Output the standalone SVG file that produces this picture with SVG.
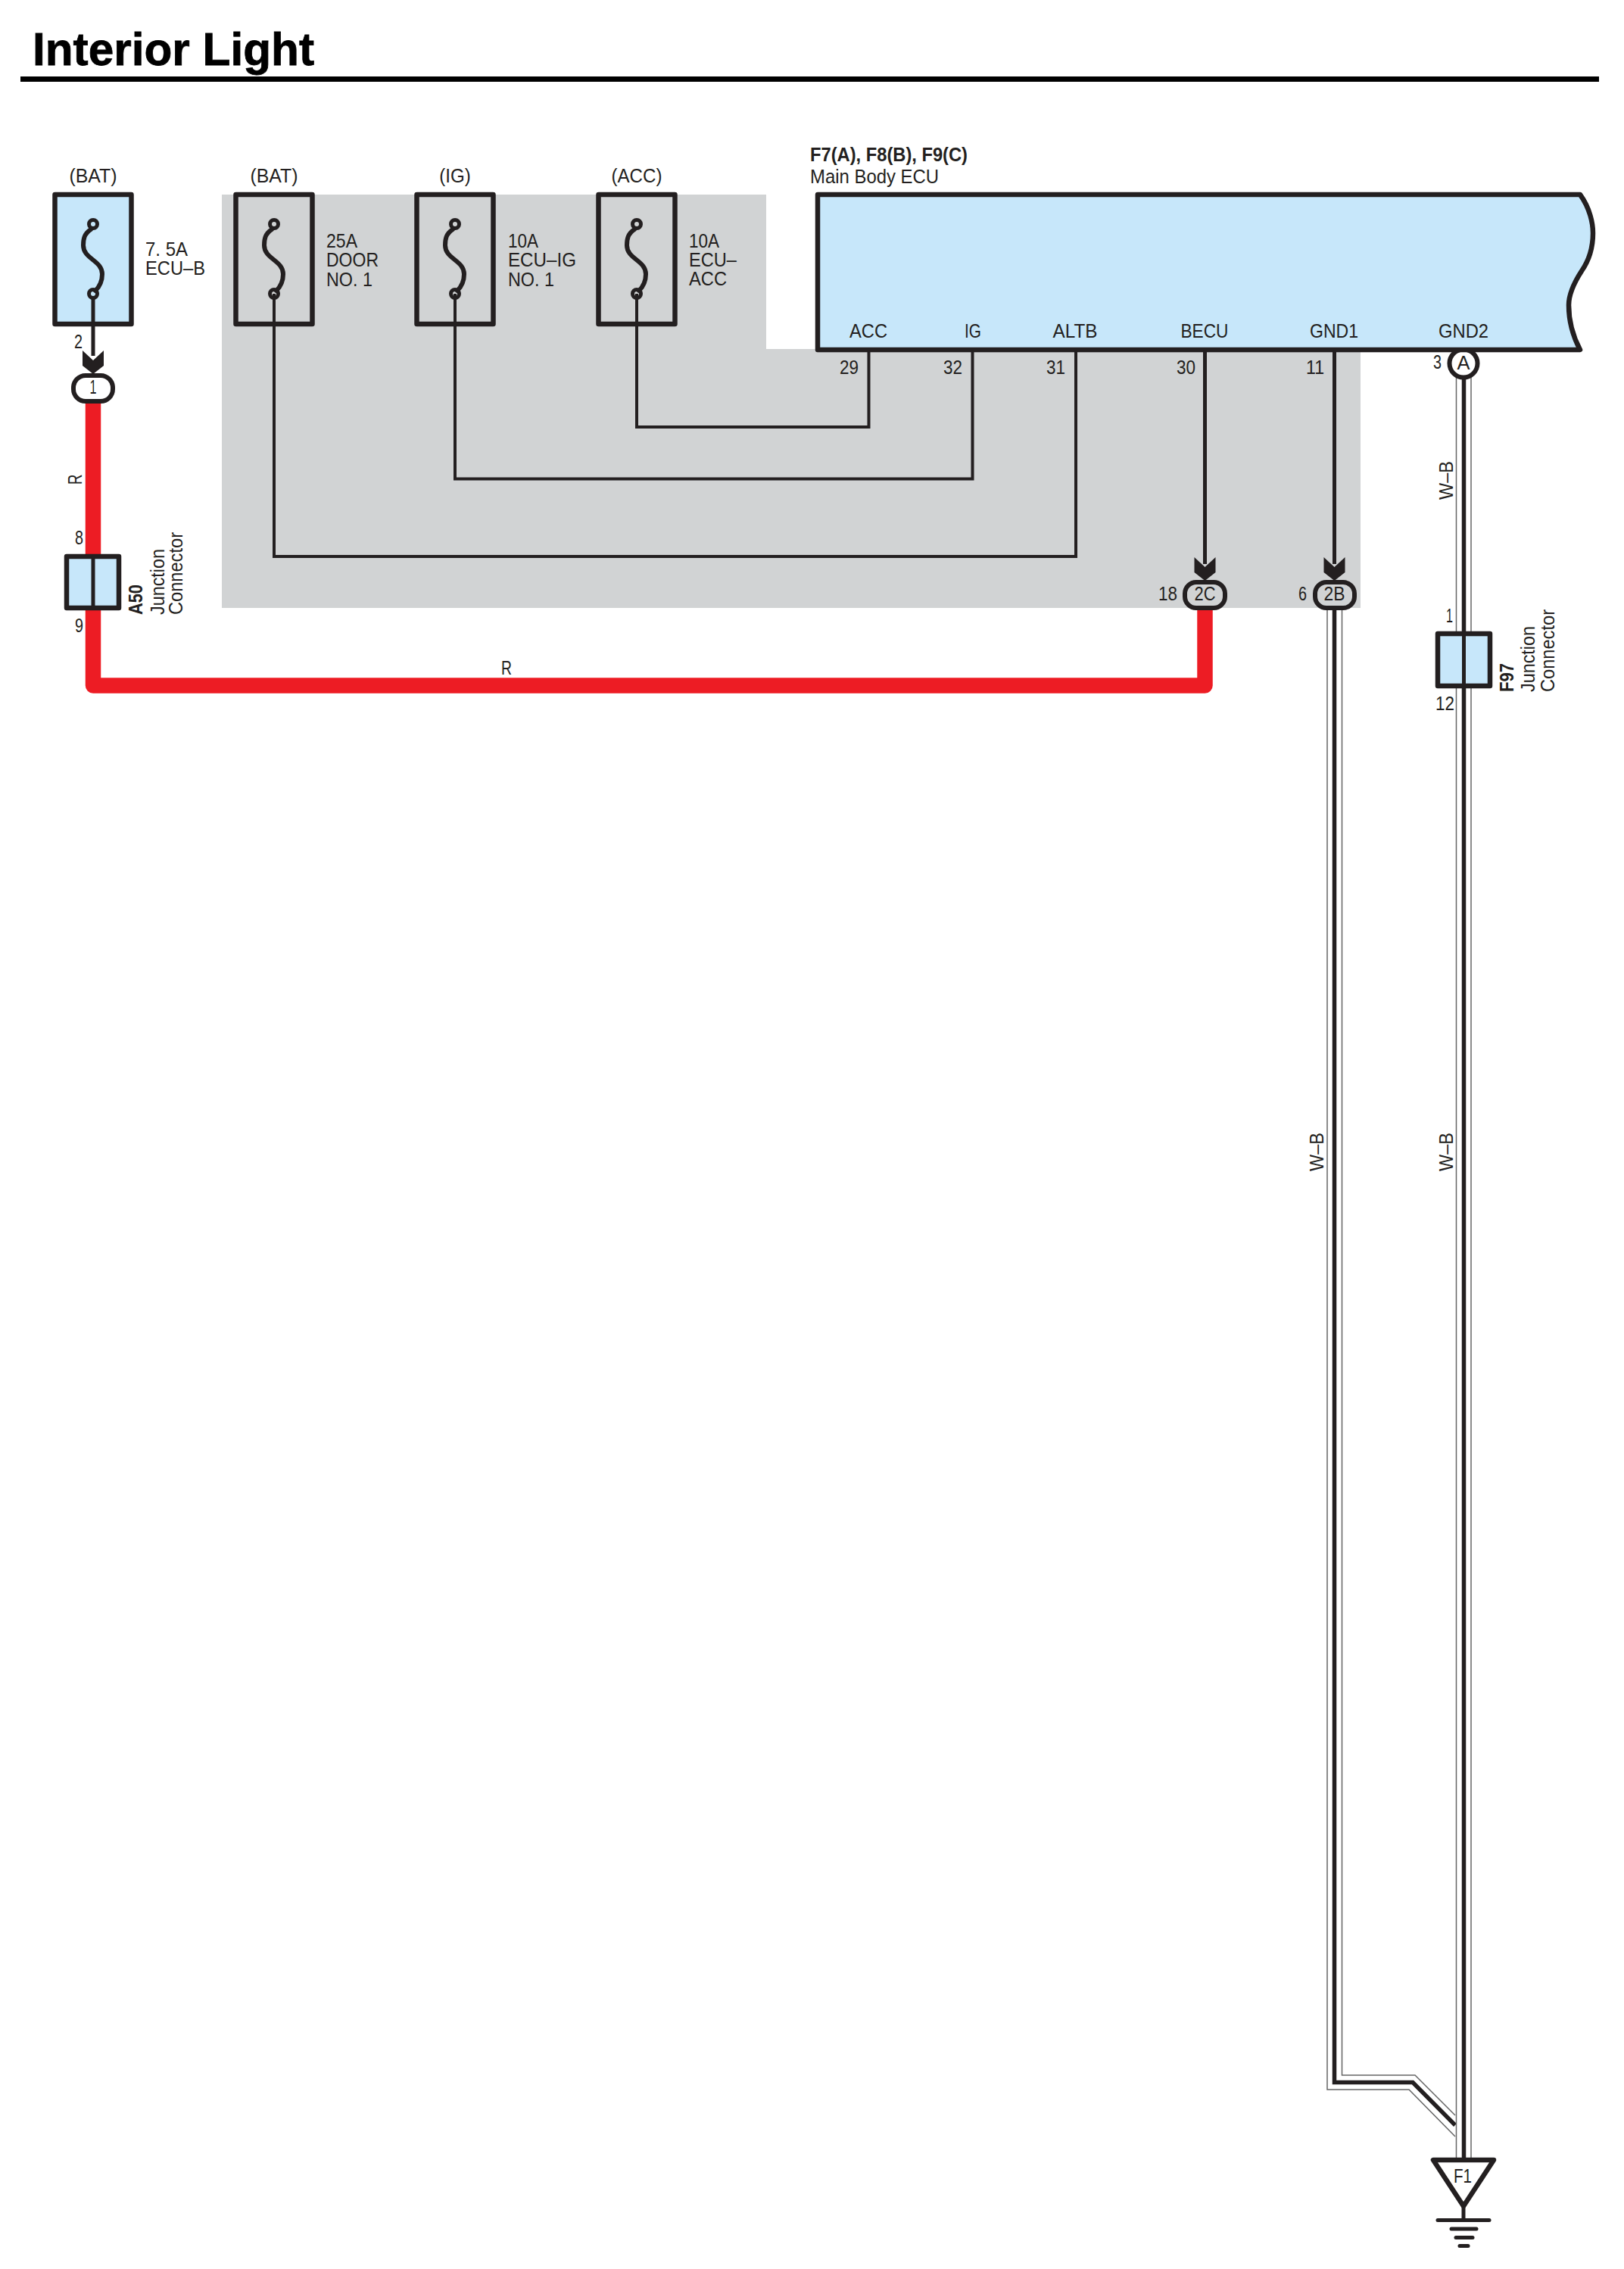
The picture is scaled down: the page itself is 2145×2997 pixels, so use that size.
<svg xmlns="http://www.w3.org/2000/svg" xmlns:xlink="http://www.w3.org/1999/xlink" width="2145" height="2997" viewBox="0 0 2145 2997">
<style>
text{font-family:"Liberation Sans",Arial,sans-serif;font-size:26.5px;fill:#231f20}
.b{font-weight:bold}
.m{text-anchor:middle}
.e{text-anchor:end}
.box{stroke:#231f20;stroke-width:6.5;stroke-linejoin:round}
.blue{fill:#c7e7fa}
.none{fill:none}
.wire{fill:none;stroke:#231f20;stroke-width:4}
.pin{fill:none;stroke:#231f20;stroke-width:5}
.red{fill:none;stroke:#ed1c24;stroke-width:20.5;stroke-linejoin:round}
.sh{fill:none;stroke:#666;stroke-width:1.5}
.core{fill:none;stroke:#231f20;stroke-width:5.5;stroke-linejoin:miter}
.gnd{stroke:#231f20;stroke-width:5;stroke-linecap:round}
</style>
<defs>
<g id="fuseS"><circle cx="0" cy="42" r="5.5" fill="none" stroke="#231f20" stroke-width="5"/><circle cx="0" cy="134" r="5.5" fill="none" stroke="#231f20" stroke-width="5"/><path d="M-3,49 C-12,55 -13,62 -13,70 C-13,88 12,90 12,108 C12,118 7,126 3,130" fill="none" stroke="#231f20" stroke-width="6" stroke-linecap="round"/></g>
<path id="arrow" d="M-14,0 L0,13 L14,0 V20 L0,31 L-14,20 Z" fill="#231f20"/>
</defs>
<rect width="2145" height="2997" fill="#fff"/>
<g id="title"><text class="b" x="43" y="86" style="font-size:61px;fill:#000;stroke:#000;stroke-width:.8" textLength="372" lengthAdjust="spacingAndGlyphs">Interior Light</text><rect x="27" y="101" width="2085" height="7" fill="#000"/></g>
<path id="shade" d="M293,257 H1012 V461 H1797 V803 H293 Z" fill="#d1d3d4"/>
<g id="connectors">
<path class="red" d="M123,530 V905.5 H1591.5 V803"/>
<path class="sh" d="M1753,806 V2760 H1861 L1922,2822"/><path class="sh" d="M1772.5,806 V2741 H1869 L1922,2794"/><path class="core" d="M1762.5,806 V2750.5 H1866 L1922,2807"/>
<path class="sh" d="M1923.5,498 V2852"/><path class="sh" d="M1943,498 V2852"/><path class="core" d="M1933.5,498 V2852"/>
<path class="wire" d="M841,388 V564 H1147.5 V462"/>
<path class="wire" d="M601,388 V632.5 H1284.5 V462"/>
<path class="wire" d="M362,388 V735 H1421 V462"/>
<path class="pin" d="M123,388 V470"/>
<path class="pin" d="M1591.5,462 V745"/>
<path class="pin" d="M1762.5,462 V745"/>
</g>
<g id="fuse-ecu-b"><rect class="box blue" x="72.5" y="257" width="101" height="171"/><use xlink:href="#fuseS" href="#fuseS" x="123" y="254"/><path class="pin" d="M123,394 V431"/><text class="m" x="123" y="241" textLength="63" lengthAdjust="spacingAndGlyphs">(BAT)</text><text x="192" y="338" textLength="56" lengthAdjust="spacingAndGlyphs">7. 5A</text><text x="192" y="363" textLength="79" lengthAdjust="spacingAndGlyphs">ECU–B</text><text class="e" x="109" y="460" textLength="11" lengthAdjust="spacingAndGlyphs">2</text></g>
<g id="fuse-door"><rect class="box none" x="311.5" y="257" width="101" height="171"/><use xlink:href="#fuseS" href="#fuseS" x="362" y="254"/><text class="m" x="362" y="241" textLength="63" lengthAdjust="spacingAndGlyphs">(BAT)</text><text x="431" y="327" textLength="41" lengthAdjust="spacingAndGlyphs">25A</text><text x="431" y="352" textLength="69" lengthAdjust="spacingAndGlyphs">DOOR</text><text x="431" y="378" textLength="61" lengthAdjust="spacingAndGlyphs">NO. 1</text></g>
<g id="fuse-ig"><rect class="box none" x="550.5" y="257" width="101" height="171"/><use xlink:href="#fuseS" href="#fuseS" x="601" y="254"/><text class="m" x="601" y="241" textLength="41.5" lengthAdjust="spacingAndGlyphs">(IG)</text><text x="671" y="327" textLength="40" lengthAdjust="spacingAndGlyphs">10A</text><text x="671" y="352" textLength="90" lengthAdjust="spacingAndGlyphs">ECU–IG</text><text x="671" y="378" textLength="61" lengthAdjust="spacingAndGlyphs">NO. 1</text></g>
<g id="fuse-acc"><rect class="box none" x="790.5" y="257" width="101" height="171"/><use xlink:href="#fuseS" href="#fuseS" x="841" y="254"/><text class="m" x="841" y="241" textLength="67" lengthAdjust="spacingAndGlyphs">(ACC)</text><text x="910" y="327" textLength="40" lengthAdjust="spacingAndGlyphs">10A</text><text x="910" y="352" textLength="63" lengthAdjust="spacingAndGlyphs">ECU–</text><text x="910" y="377" textLength="50" lengthAdjust="spacingAndGlyphs">ACC</text></g>
<g id="conn-a"><ellipse cx="1933" cy="480" rx="18.5" ry="18.5" fill="#fff" stroke="#231f20" stroke-width="6"/><text class="m" x="1933" y="488" textLength="17" lengthAdjust="spacingAndGlyphs">A</text><text class="e" x="1904" y="487" textLength="11" lengthAdjust="spacingAndGlyphs">3</text></g>
<g id="ecu"><path class="box blue" d="M1080,257 H2087 C2100,275 2104,295 2104,308 C2104,330 2098,345 2089,358 C2078,375 2072,390 2072,403 C2072,425 2078,445 2087,462 H1080 Z"/>
<text class="b" x="1070" y="213" textLength="208" lengthAdjust="spacingAndGlyphs">F7(A), F8(B), F9(C)</text><text x="1070" y="242" textLength="170" lengthAdjust="spacingAndGlyphs">Main Body ECU</text>
<text class="m" x="1147" y="446" textLength="50" lengthAdjust="spacingAndGlyphs">ACC</text><text class="m" x="1285" y="446" textLength="22" lengthAdjust="spacingAndGlyphs">IG</text><text class="m" x="1420" y="446" textLength="59" lengthAdjust="spacingAndGlyphs">ALTB</text><text class="m" x="1591" y="446" textLength="63" lengthAdjust="spacingAndGlyphs">BECU</text><text class="m" x="1762" y="446" textLength="64" lengthAdjust="spacingAndGlyphs">GND1</text><text class="m" x="1933" y="446" textLength="66" lengthAdjust="spacingAndGlyphs">GND2</text>
<text x="1109" y="494" textLength="25" lengthAdjust="spacingAndGlyphs">29</text><text x="1246" y="494" textLength="25" lengthAdjust="spacingAndGlyphs">32</text><text x="1382" y="494" textLength="25" lengthAdjust="spacingAndGlyphs">31</text><text x="1554" y="494" textLength="25" lengthAdjust="spacingAndGlyphs">30</text><text x="1725" y="494" textLength="24" lengthAdjust="spacingAndGlyphs">11</text></g>
<g id="conn-1"><use xlink:href="#arrow" href="#arrow" x="123" y="463"/><rect x="97" y="496" width="52" height="34" rx="16" fill="#fff" stroke="#231f20" stroke-width="6"/><text class="m" x="123" y="520" textLength="9" lengthAdjust="spacingAndGlyphs">1</text></g>
<g id="conn-2c"><use xlink:href="#arrow" href="#arrow" x="1591.5" y="736"/><rect x="1565" y="769" width="53" height="34" rx="15" fill="#d1d3d4" stroke="#231f20" stroke-width="6"/><text class="m" x="1591.5" y="793" textLength="28" lengthAdjust="spacingAndGlyphs">2C</text><text x="1530" y="793" textLength="25" lengthAdjust="spacingAndGlyphs">18</text></g>
<g id="conn-2b"><use xlink:href="#arrow" href="#arrow" x="1762.5" y="736"/><rect x="1737" y="769" width="52" height="34" rx="15" fill="#d1d3d4" stroke="#231f20" stroke-width="6"/><text class="m" x="1762.5" y="793" textLength="28" lengthAdjust="spacingAndGlyphs">2B</text><text class="e" x="1726" y="793" textLength="11" lengthAdjust="spacingAndGlyphs">6</text></g>
<g id="junction-a50"><rect class="box blue" x="88" y="735" width="69" height="68"/><path class="pin" d="M123,735 V803"/><text class="e" x="110" y="719" textLength="11" lengthAdjust="spacingAndGlyphs">8</text><text class="e" x="110" y="835" textLength="11" lengthAdjust="spacingAndGlyphs">9</text>
<text class="b" transform="translate(187.5,812) rotate(-90)" textLength="40" lengthAdjust="spacingAndGlyphs">A50</text><text transform="translate(216.5,812) rotate(-90)" textLength="87" lengthAdjust="spacingAndGlyphs">Junction</text><text transform="translate(240.5,812) rotate(-90)" textLength="109" lengthAdjust="spacingAndGlyphs">Connector</text></g>
<g id="junction-f97"><rect class="box blue" x="1899" y="837" width="69" height="69"/><path class="pin" d="M1933.5,837 V906"/><text class="e" x="1919" y="822" textLength="9" lengthAdjust="spacingAndGlyphs">1</text><text x="1896" y="938" textLength="25" lengthAdjust="spacingAndGlyphs">12</text>
<text class="b" transform="translate(1999,914) rotate(-90)" textLength="38" lengthAdjust="spacingAndGlyphs">F97</text><text transform="translate(2027,914) rotate(-90)" textLength="87" lengthAdjust="spacingAndGlyphs">Junction</text><text transform="translate(2053,914) rotate(-90)" textLength="109" lengthAdjust="spacingAndGlyphs">Connector</text></g>
<g id="ground-f1"><path d="M1893,2853 H1973 L1933,2914 Z" fill="#fff" stroke="#231f20" stroke-width="6.5" stroke-linejoin="round"/><text class="m" x="1932" y="2883" textLength="24" lengthAdjust="spacingAndGlyphs">F1</text><path class="pin" d="M1933,2914 V2932"/><path class="gnd" d="M1899,2932.5 H1967"/><path class="gnd" d="M1917,2944 H1950"/><path class="gnd" d="M1923,2955.5 H1945"/><path class="gnd" d="M1928,2966.5 H1939"/></g>
<g id="wire-labels"><text transform="translate(108,640) rotate(-90)" textLength="13.5" lengthAdjust="spacingAndGlyphs">R</text><text x="662" y="890.5" textLength="14" lengthAdjust="spacingAndGlyphs">R</text>
<text transform="translate(1919,660) rotate(-90)" textLength="51" lengthAdjust="spacingAndGlyphs">W–B</text><text transform="translate(1748,1547) rotate(-90)" textLength="51" lengthAdjust="spacingAndGlyphs">W–B</text><text transform="translate(1919,1547) rotate(-90)" textLength="51" lengthAdjust="spacingAndGlyphs">W–B</text></g>
</svg>
